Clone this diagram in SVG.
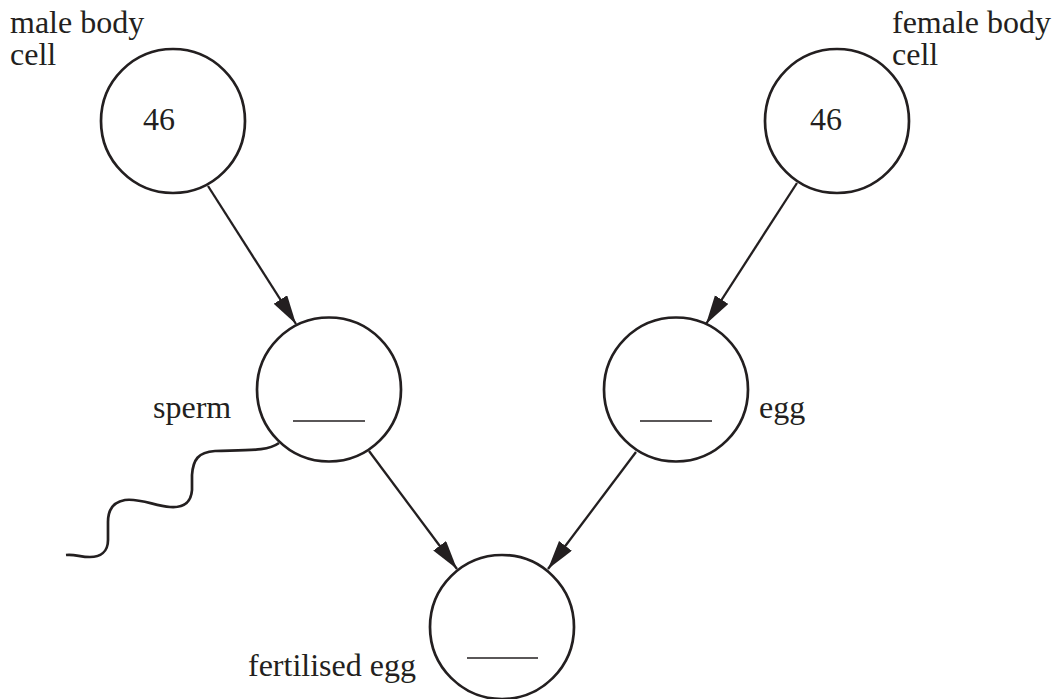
<svg xmlns="http://www.w3.org/2000/svg" width="1060" height="699" viewBox="0 0 1060 699">
<style>
text{font-family:"Liberation Serif","Times New Roman",serif;font-size:32px;fill:#231f20}
.cell{fill:none;stroke:#231f20;stroke-width:2.7}
.blank{stroke:#231f20;stroke-width:1.4}
.arrow{stroke:#231f20;stroke-width:2.3;fill:none;marker-end:url(#ah)}
</style>
<defs>
<marker id="ah" markerUnits="userSpaceOnUse" markerWidth="32" markerHeight="18" refX="29" refY="8" orient="auto">
<path d="M0,0 L29,8 L0,16 Z" fill="#231f20"/>
</marker>
</defs>
<rect width="1060" height="699" fill="#fff"/>
<g id="connectors">
<line class="arrow" x1="208" y1="186" x2="296" y2="324"/>
<line class="arrow" x1="797" y1="183" x2="706" y2="324"/>
<line class="arrow" x1="369" y1="451" x2="457" y2="569"/>
<line class="arrow" x1="636" y1="452" x2="548" y2="569"/>
</g>
<g id="male-body-cell">
<circle class="cell" cx="173" cy="121" r="72"/>
<text x="143" y="130">46</text>
<text x="10" y="33">male body<tspan x="10" dy="32">cell</tspan></text>
</g>
<g id="female-body-cell">
<circle class="cell" cx="837" cy="121" r="72"/>
<text x="810" y="130">46</text>
<text x="892" y="33">female body<tspan x="892" dy="32">cell</tspan></text>
</g>
<g id="sperm">
<circle class="cell" cx="329" cy="389.5" r="72"/>
<line class="blank" x1="293" y1="421" x2="365" y2="421"/>
<text x="153" y="418">sperm</text>
<path class="cell" stroke-width="2.2" d="M279,443 C268,451 252,450 215,451 C198,452 193,460 192,475 L192,490 C191,503 183,508 170,507 C155,506 140,498 125,500 C113,502 108,510 108,522 L108,540 C108,552 100,557 90,557 C80,557 75,554 66,555"/>
</g>
<g id="egg">
<circle class="cell" cx="676" cy="389.5" r="72"/>
<line class="blank" x1="640" y1="421" x2="712" y2="421"/>
<text x="759" y="418">egg</text>
</g>
<g id="fertilised-egg">
<circle class="cell" cx="502" cy="627" r="72"/>
<line class="blank" x1="467" y1="658" x2="538" y2="658"/>
<text x="248" y="676">fertilised egg</text>
</g>
</svg>
